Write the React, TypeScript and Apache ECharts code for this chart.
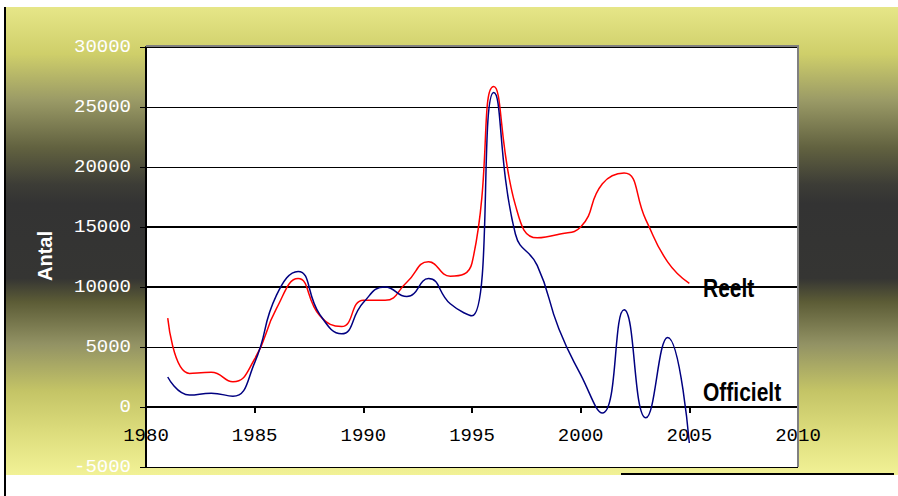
import React, { useEffect, useRef } from "react";
import * as echarts from "echarts";

const years = [1981, 1982, 1983, 1984, 1985, 1986, 1987, 1988, 1989, 1990, 1991, 1992, 1993, 1994, 1995, 1996, 1997, 1998, 1999, 2000, 2001, 2002, 2003, 2004, 2005];
const reelt = [7400, 2800, 2900, 2100, 4000, 8200, 10700, 7600, 6700, 8900, 8900, 10400, 12100, 10900, 12000, 26700, 16800, 14100, 14400, 15000, 18600, 19500, 15600, 12100, 10300];
const officielt = [2500, 1000, 1150, 900, 3700, 9300, 11300, 7700, 6100, 8700, 10000, 9200, 10700, 8600, 7600, 26200, 14400, 11800, 6500, 2700, -500, 8100, -900, 5800, -3000];
const seriesNames = ["Reelt", "Officielt"];
const axisTitle = "Antal";
const xRange = { min: 1980, max: 2010, interval: 5 };
const yRange = { min: -5000, max: 30000, interval: 5000 };
const heavyGridValues = [10000, 15000];

const tickFont = "Liberation Mono";

export default function App() {
  const ref = useRef<HTMLDivElement>(null);
  useEffect(() => {
    document.body.style.margin = "0";
    const chart = echarts.init(ref.current!, null, { renderer: "svg" });
    const gradient = new echarts.graphic.LinearGradient(0, 0, 0, 1, [
      { offset: 0, color: "#e6e688" },
      { offset: 0.1, color: "#cfcf6a" },
      { offset: 0.2, color: "#9a9a66" },
      { offset: 0.3, color: "#626240" },
      { offset: 0.38, color: "#3c3c36" },
      { offset: 0.42, color: "#333333" },
      { offset: 0.58, color: "#353533" },
      { offset: 0.63, color: "#5c5c36" },
      { offset: 0.72, color: "#929264" },
      { offset: 0.82, color: "#c4c466" },
      { offset: 0.9, color: "#dada7a" },
      { offset: 1, color: "#f2f296" },
    ]);
    chart.setOption({
      animation: false,
      backgroundColor: "#ffffff",
      grid: { left: 146, top: 47, right: 100, bottom: 29, containLabel: false },
      xAxis: {
        type: "value",
        min: xRange.min,
        max: xRange.max,
        interval: xRange.interval,
        axisLine: { onZero: true, lineStyle: { color: "#000", width: 2 } },
        axisTick: { show: true, length: 6, lineStyle: { color: "#000", width: 2 } },
        splitLine: { show: false },
        axisLabel: {
          color: "#000",
          fontFamily: tickFont,
          fontSize: 19,
          margin: -41,
          formatter: (v: number) => String(v),
        },
      },
      yAxis: {
        type: "value",
        min: yRange.min,
        max: yRange.max,
        interval: yRange.interval,
        axisLine: { show: true, onZero: false, lineStyle: { color: "#000", width: 2 } },
        axisTick: { show: true, length: 6, lineStyle: { color: "#000", width: 1 } },
        splitLine: { show: true, lineStyle: { color: "#000", width: 1 } },
        axisLabel: {
          color: "#ffffff",
          fontFamily: tickFont,
          fontSize: 19,
          margin: 15,
          formatter: (v: number) => String(v),
        },
      },
      graphic: [
        {
          type: "rect",
          z: -10,
          silent: true,
          shape: { x: 5, y: 7, width: 893, height: 468 },
          style: { fill: gradient },
        },
        {
          type: "rect",
          z: -9,
          silent: true,
          shape: { x: 146, y: 47, width: 652, height: 420 },
          style: { fill: "#ffffff" },
        },
        {
          type: "polyline",
          z: 10,
          silent: true,
          shape: { points: [[146, 46], [798, 46], [798, 467]] },
          style: { stroke: "#808080", lineWidth: 2, fill: null },
        },
        {
          type: "line",
          z: 10,
          silent: true,
          shape: { x1: 5, y1: 7, x2: 5, y2: 496 },
          style: { stroke: "#000", lineWidth: 2 },
        },
        {
          type: "line",
          z: 10,
          silent: true,
          shape: { x1: 621, y1: 474, x2: 894, y2: 474 },
          style: { stroke: "#000", lineWidth: 2 },
        },
        {
          type: "text",
          z: 10,
          x: 45,
          y: 256,
          rotation: Math.PI / 2,
          style: {
            text: axisTitle,
            fill: "#ffffff",
            fontFamily: "Liberation Sans",
            fontWeight: "bold",
            fontSize: 20,
            align: "center",
            verticalAlign: "middle",
          },
        },
        {
          type: "text",
          z: 10,
          x: 703,
          y: 288,
          scaleY: 1.2,
          style: {
            text: seriesNames[0],
            fill: "#000",
            fontFamily: "Liberation Sans",
            fontWeight: "bold",
            fontSize: 21,
            align: "left",
            verticalAlign: "middle",
          },
        },
        {
          type: "text",
          z: 10,
          x: 703,
          y: 392,
          scaleY: 1.2,
          style: {
            text: seriesNames[1],
            fill: "#000",
            fontFamily: "Liberation Sans",
            fontWeight: "bold",
            fontSize: 21,
            align: "left",
            verticalAlign: "middle",
          },
        },
      ],
      series: [
        {
          name: seriesNames[0],
          type: "line",
          smooth: 0.5,
          showSymbol: false,
          data: years.map((y, i) => [y, reelt[i]]),
          lineStyle: { color: "#ff0000", width: 1.5 },
          itemStyle: { color: "#ff0000" },
          z: 3,
          markLine: {
            silent: true,
            symbol: "none",
            label: { show: false },
            lineStyle: { color: "#000", width: 2, type: "solid" },
            data: heavyGridValues.map((v) => ({ yAxis: v })),
            z: 1,
          },
        },
        {
          name: seriesNames[1],
          type: "line",
          smooth: 0.5,
          showSymbol: false,
          data: years.map((y, i) => [y, officielt[i]]),
          lineStyle: { color: "#000080", width: 1.5 },
          itemStyle: { color: "#000080" },
          z: 4,
        },
      ],
    });
    return () => chart.dispose();
  }, []);
  return <div ref={ref} style={{ width: 898, height: 496 }} />;
}
